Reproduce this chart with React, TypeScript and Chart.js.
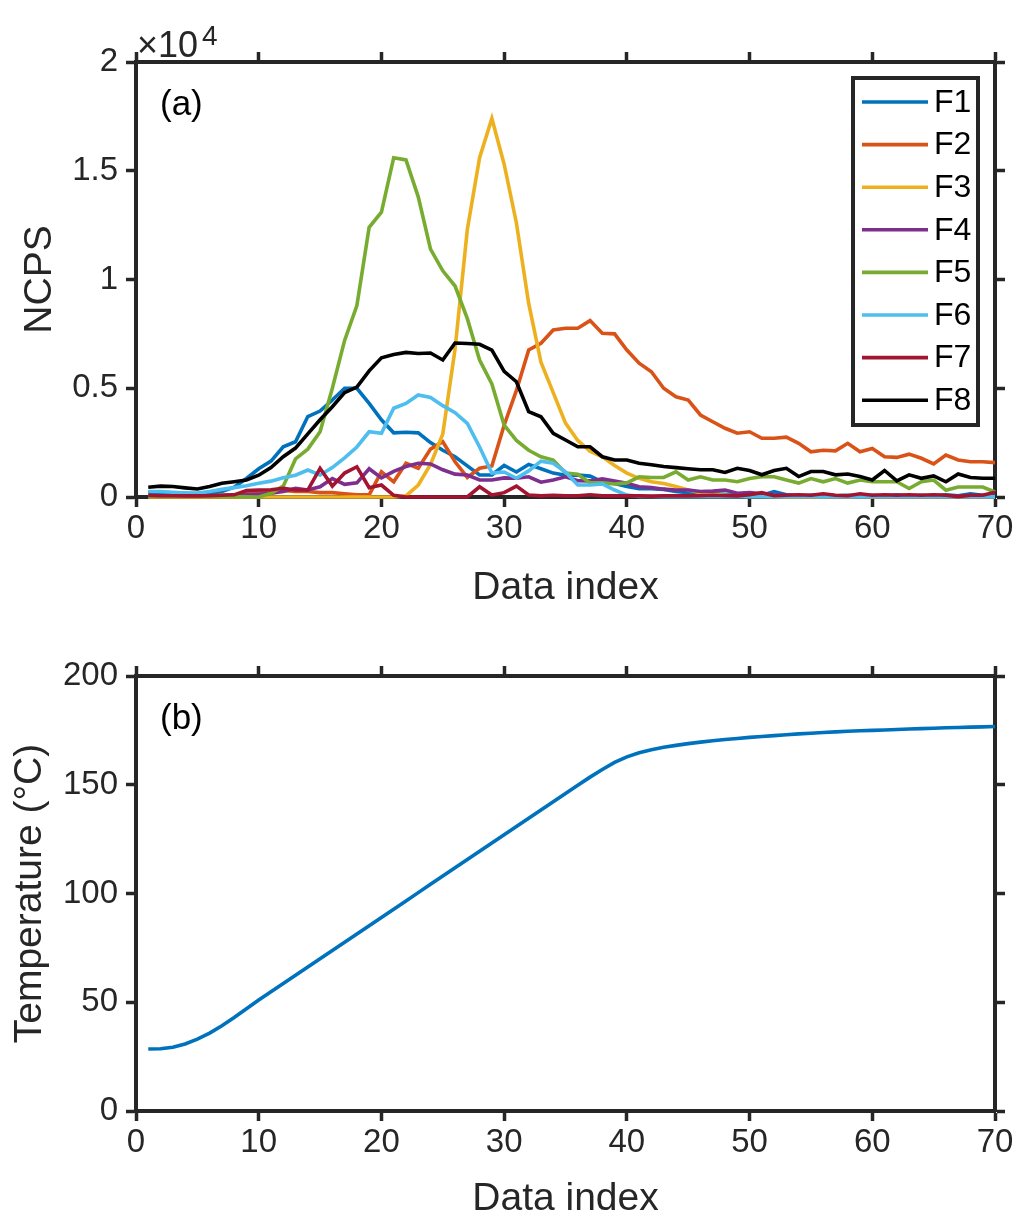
import React, { useEffect, useRef } from "react";
import { Chart, registerables } from "chart.js";

Chart.register(...registerables);

// ---------------- DATA ----------------
const dataIndex = [
  1, 2, 3, 4, 5, 6, 7, 8, 9, 10, 11, 12, 13, 14, 15, 16, 17, 18, 19, 20,
  21, 22, 23, 24, 25, 26, 27, 28, 29, 30, 31, 32, 33, 34, 35, 36, 37, 38, 39, 40,
  41, 42, 43, 44, 45, 46, 47, 48, 49, 50, 51, 52, 53, 54, 55, 56, 57, 58, 59, 60,
  61, 62, 63, 64, 65, 66, 67, 68, 69, 70,
];

const seriesNames = ["F1", "F2", "F3", "F4", "F5", "F6", "F7", "F8"];

const f1 = [
  200, 200, 180, 170, 150, 170, 250, 450, 850, 1300,
  1650, 2310, 2540, 3700, 3950, 4460, 5000, 5000, 4300, 3550,
  2950, 2980, 2950, 2500, 2150, 1850, 1430, 1010, 1010, 1450,
  1150, 1500, 1300, 1100, 1000, 1010, 960, 700, 620, 480,
  380, 380, 350, 250, 200, 180, 150, 120, 100, 100,
  80, 250, 100, 50, 80, 100, 50, 80, 50, 80,
  50, 100, 60, 80, 50, 100, 60, 150, 80, 100,
];
const f2 = [
  50, 50, 50, 50, 50, 60, 80, 100, 150, 200,
  250, 300, 250, 250, 200, 200, 150, 100, 100, 1160,
  700, 1550, 1320, 2200, 2540, 1620, 900, 1320, 1430, 3300,
  4900, 6760, 7070, 7680, 7760, 7760, 8110, 7530, 7500, 6760,
  6150, 5760, 5000, 4610, 4460, 3770, 3460, 3160, 2930, 3000,
  2700, 2700, 2750, 2470, 2080, 2150, 2120, 2470, 2080, 2230,
  1850, 1820, 1970, 1780, 1520, 1930, 1700, 1620, 1620, 1580,
];
const f3 = [
  0, 0, 0, 0, 0, 0, 0, 0, 0, 0,
  0, 0, 0, 0, 0, 0, 0, 0, 0, 0,
  0, 50, 550, 1500, 2900, 6800, 12300, 15600, 17400, 15300,
  12600, 8900, 6200, 4800, 3400, 2600, 2100, 1850, 1450, 1100,
  860, 700, 620, 480, 320, 200, 120, 80, 50, 30,
  20, 10, 0, 0, 0, 0, 0, 0, 0, 0,
  0, 0, 0, 0, 0, 0, 0, 0, 0, 0,
];
const f4 = [
  50, 50, 50, 50, 50, 50, 60, 80, 100, 130,
  170, 250, 400, 320, 470, 850, 580, 650, 1300, 880,
  1180, 1400, 1550, 1520, 1250, 1050, 1010, 780, 780, 880,
  860, 930, 680, 780, 930, 750, 740, 830, 740, 630,
  470, 430, 360, 320, 320, 250, 270, 320, 170, 200,
  150, 100, 80, 50, 40, 40, 30, 30, 30, 30,
  30, 30, 30, 30, 30, 30, 30, 30, 30, 30,
];
const f5 = [
  50, 50, 50, 50, 50, 40, 30, 20, 10, 0,
  170, 500, 1750, 2200, 3000, 5000, 7200, 8800, 12400, 13100,
  15600, 15500, 13800, 11400, 10400, 9700, 8200, 6300, 5200, 3300,
  2600, 2150, 1850, 1700, 1100, 1050, 650, 650, 600, 650,
  930, 900, 900, 1160, 780, 930, 780, 780, 700, 850,
  930, 930, 780, 640, 850, 700, 850, 640, 780, 700,
  700, 700, 390, 700, 780, 310, 460, 460, 460, 230,
];
const f6 = [
  250, 250, 220, 180, 180, 250, 350, 430, 520, 630,
  730, 880, 1000, 1240, 1010, 1350, 1800, 2300, 3000, 2930,
  4080, 4300, 4690, 4580, 4200, 3880, 3380, 2300, 1100, 1150,
  860, 1200, 1650, 1550, 1150, 550, 550, 600, 320, 90,
  30, 20, 10, 10, 10, 10, 10, 10, 10, 10,
  10, 10, 10, 10, 10, 10, 10, 10, 10, 10,
  10, 10, 10, 10, 10, 10, 10, 10, 10, 10,
];
const f7 = [
  80, 60, 60, 50, 50, 60, 80, 100, 300, 320,
  330, 400, 320, 320, 1320, 500, 1100, 1390, 430, 550,
  80, 0, 0, 0, 0, 0, 0, 470, 90, 200,
  500, 90, 50, 80, 50, 60, 100, 50, 50, 60,
  50, 40, 50, 60, 50, 60, 80, 60, 50, 100,
  200, 60, 80, 100, 80, 150, 80, 60, 150, 80,
  100, 80, 100, 80, 100, 80, 20, 80, 80, 220,
];
const f8 = [
  450, 500, 480, 420, 370, 480, 630, 700, 780, 1000,
  1350, 1850, 2250, 2900, 3550, 4150, 4800, 5050, 5800, 6400,
  6550, 6650, 6600, 6620, 6300, 7080, 7060, 7020, 6750, 5780,
  5300, 3920, 3690, 2930, 2620, 2310, 2310, 1850, 1700, 1700,
  1550, 1480, 1400, 1350, 1300, 1250, 1250, 1130, 1320, 1220,
  1020, 1220, 1320, 940, 1170, 1170, 1020, 1060, 940, 780,
  1220, 740, 1020, 860, 970, 700, 1060, 900, 860, 860,
];

const temperature = [
  28.5, 28.6, 29.3, 30.8, 33.0, 35.8, 39.2, 43.0, 47.0, 51.0,
  54.8, 58.6, 62.4, 66.2, 70.0, 73.8, 77.6, 81.4, 85.2, 89.0,
  92.8, 96.6, 100.4, 104.2, 108.0, 111.8, 115.6, 119.4, 123.2, 127.0,
  130.8, 134.6, 138.4, 142.2, 146.0, 149.8, 153.5, 157.0, 160.3, 162.8,
  164.7, 166.1, 167.2, 168.1, 168.9, 169.6, 170.2, 170.8, 171.3, 171.8,
  172.2, 172.6, 173.0, 173.4, 173.7, 174.0, 174.3, 174.6, 174.8, 175.0,
  175.2, 175.4, 175.6, 175.8, 176.0, 176.2, 176.3, 176.5, 176.6, 176.8,
];

const xRange = [0, 70];
const xStep = 10;
const ncpsRange = [0, 20000];
const ncpsStep = 5000;
const ncpsScaleFactor = 10000;
const tempRange = [0, 200];
const tempStep = 50;

// ---------------- STYLE ----------------
const COLORS = ["#0072BD", "#D95319", "#EDB120", "#7E2F8E", "#77AC30", "#4DBEEE", "#A2142F", "#000000"];
const FONT = "'Liberation Sans', Arial, sans-serif";
const AXIS = "#262626";
const TICK_SIZE = 33;
const LABEL_SIZE = 39;
const LINE_W = 3.6;

function makeAxis(position: string, range: number[], step: number, opts: any) {
  const horizontal = position === "top" || position === "bottom";
  return {
    type: "linear",
    axis: horizontal ? "x" : "y",
    position,
    min: range[0],
    max: range[1],
    ticks: {
      stepSize: step,
      display: opts.labels,
      color: AXIS,
      font: { family: FONT, size: TICK_SIZE },
      padding: opts.tickPadding ?? 2,
      maxRotation: 0,
      autoSkip: false,
      callback: opts.format,
    },
    grid: {
      drawOnChartArea: false,
      drawTicks: true,
      tickLength: 10,
      tickWidth: 3.5,
      tickColor: AXIS,
    },
    border: { display: true, color: AXIS, width: 4 },
    title: opts.title
      ? {
          display: true,
          text: opts.title,
          color: AXIS,
          font: { family: FONT, size: LABEL_SIZE },
          padding: opts.titlePadding,
        }
      : { display: false },
    afterFit: (s: any) => {
      if (horizontal) s.height = opts.size;
      else s.width = opts.size;
    },
  };
}

function overlayPlugin(panel: string, series: boolean) {
  return {
    id: "overlay_" + panel,
    afterDraw(chart: any) {
      const { ctx, chartArea } = chart;
      ctx.save();
      ctx.fillStyle = "#000";
      ctx.textBaseline = "middle";
      ctx.textAlign = "left";
      ctx.font = `35px ${FONT}`;
      ctx.fillText(`(${panel})`, chartArea.left + 24, chartArea.top + 43);

      if (series) {
        // exponent label
        ctx.fillStyle = AXIS;
        ctx.textBaseline = "alphabetic";
        ctx.font = `36px ${FONT}`;
        ctx.fillText("\u00D710", chartArea.left + 1, chartArea.top - 5);
        const w = ctx.measureText("\u00D710").width;
        ctx.font = `28px ${FONT}`;
        ctx.fillText("4", chartArea.left + 5 + w, chartArea.top - 17);

        // legend box
        const bx = chartArea.right - 142;
        const by = chartArea.top + 16;
        const bw = 125;
        const bh = 347;
        ctx.fillStyle = "#fff";
        ctx.fillRect(bx, by, bw, bh);
        ctx.lineWidth = 4;
        ctx.strokeStyle = AXIS;
        ctx.strokeRect(bx, by, bw, bh);
        ctx.font = `32px ${FONT}`;
        ctx.textBaseline = "middle";
        chart.data.datasets.forEach((ds: any, i: number) => {
          const y = by + 24 + i * 42.6;
          ctx.strokeStyle = ds.borderColor;
          ctx.lineWidth = LINE_W;
          ctx.beginPath();
          ctx.moveTo(bx + 9, y);
          ctx.lineTo(bx + 75, y);
          ctx.stroke();
          ctx.fillStyle = "#000";
          ctx.fillText(ds.label, bx + 81, y + 1);
        });
      }
      ctx.restore();
    },
  };
}

function points(ys: number[]) {
  return dataIndex.map((x, i) => ({ x, y: ys[i] }));
}

export default function App() {
  const topRef = useRef<HTMLCanvasElement>(null);
  const botRef = useRef<HTMLCanvasElement>(null);

  useEffect(() => {
    const allSeries = [f1, f2, f3, f4, f5, f6, f7, f8];
    const topChart = new Chart(topRef.current as HTMLCanvasElement, {
      type: "line",
      data: {
        datasets: allSeries.map((s, i) => ({
          label: seriesNames[i],
          data: points(s),
          borderColor: COLORS[i],
          backgroundColor: COLORS[i],
          borderWidth: LINE_W,
          pointRadius: 0,
          tension: 0,
          clip: false,
          order: allSeries.length - 1 - i,
        })),
      },
      options: {
        animation: false,
        responsive: false,
        devicePixelRatio: 1,
        layout: { padding: { left: 0, top: 50, right: 11, bottom: 0 } },
        plugins: { legend: { display: false }, tooltip: { enabled: false } },
        scales: {
          x: makeAxis("bottom", xRange, xStep, { labels: true, size: 113, title: "Data index", titlePadding: { top: 0, bottom: -2 } }),
          xTop: makeAxis("top", xRange, xStep, { labels: false, size: 12 }),
          y: makeAxis("left", ncpsRange, ncpsStep, {
            labels: true,
            size: 136,
            tickPadding: 8,
            title: "NCPS",
            titlePadding: { top: 17, bottom: 0 },
            format: (v: number) => String(v / ncpsScaleFactor),
          }),
          yRight: makeAxis("right", ncpsRange, ncpsStep, { labels: false, size: 12 }),
        },
      } as any,
      plugins: [overlayPlugin("a", true)],
    } as any);

    const botChart = new Chart(botRef.current as HTMLCanvasElement, {
      type: "line",
      data: {
        datasets: [
          {
            label: "Temperature",
            data: points(temperature),
            borderColor: COLORS[0],
            backgroundColor: COLORS[0],
            borderWidth: LINE_W,
            pointRadius: 0,
            tension: 0,
            clip: false,
          },
        ],
      },
      options: {
        animation: false,
        responsive: false,
        devicePixelRatio: 1,
        layout: { padding: { left: 0, top: 54, right: 11, bottom: 0 } },
        plugins: { legend: { display: false }, tooltip: { enabled: false } },
        scales: {
          x: makeAxis("bottom", xRange, xStep, { labels: true, size: 109, title: "Data index", titlePadding: { top: 0, bottom: -3 } }),
          xTop: makeAxis("top", xRange, xStep, { labels: false, size: 12 }),
          y: makeAxis("left", tempRange, tempStep, {
            labels: true,
            size: 136,
            tickPadding: 8,
            title: "Temperature (\u00B0C)",
            titlePadding: { top: 7, bottom: 0 },
          }),
          yRight: makeAxis("right", tempRange, tempStep, { labels: false, size: 12 }),
        },
      } as any,
      plugins: [overlayPlugin("b", false)],
    } as any);

    return () => {
      topChart.destroy();
      botChart.destroy();
    };
  }, []);

  return (
    <div style={{ position: "absolute", left: 0, top: 0, width: 1018, height: 1220, background: "#fff" }}>
      <canvas ref={topRef} width={1018} height={610} style={{ position: "absolute", left: 0, top: 0, width: 1018, height: 610 }} />
      <canvas ref={botRef} width={1018} height={610} style={{ position: "absolute", left: 0, top: 610, width: 1018, height: 610 }} />
    </div>
  );
}
